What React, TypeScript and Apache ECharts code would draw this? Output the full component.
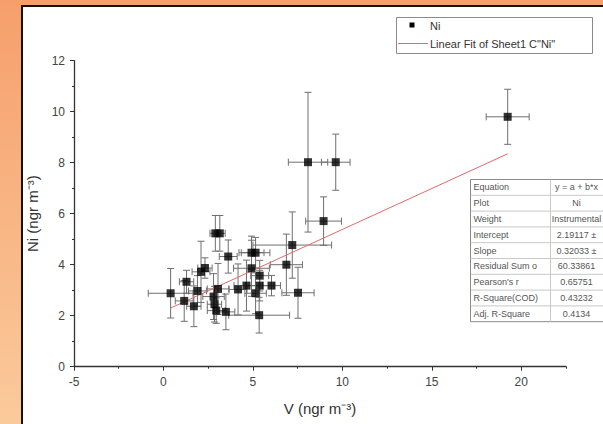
import React, { useEffect, useRef } from "react";
import * as echarts from "echarts";

// V (x) values, Ni (y) values, and their error half-widths
const vValues = [0.4, 1.16, 1.29, 1.7, 1.9, 2.1, 2.32, 2.9, 3.15, 2.8, 2.85, 2.95, 3.05, 3.49, 3.62, 4.17, 4.64, 4.92, 5.15, 4.92, 5.15, 5.38, 5.38, 5.35, 6.04, 6.87, 7.2, 7.52, 8.08, 9.63, 8.95, 19.24];
const niValues = [2.88, 2.58, 3.33, 2.37, 2.97, 3.72, 3.87, 5.23, 5.23, 2.75, 2.45, 2.2, 3.05, 2.15, 4.32, 3.03, 3.18, 4.47, 4.47, 3.86, 2.88, 3.57, 3.18, 2.02, 3.18, 4.0, 4.77, 2.9, 8.02, 8.02, 5.71, 9.8];
const vErr = [1.25, 0.5, 0.4, 0.4, 0.5, 0.5, 0.4, 0.3, 0.3, 0.6, 0.4, 0.5, 0.6, 0.5, 0.5, 0.5, 0.7, 0.7, 0.8, 1.0, 0.6, 0.5, 0.8, 1.7, 0.5, 0.9, 2.2, 0.9, 1.1, 0.8, 1.0, 1.2];
const niErr = [0.97, 0.8, 0.45, 0.8, 0.6, 1.2, 0.4, 0.7, 0.7, 0.9, 0.7, 0.5, 1.0, 0.7, 0.65, 1.0, 1.0, 0.65, 0.6, 1.1, 0.8, 0.6, 0.6, 0.7, 0.4, 1.2, 1.3, 1.0, 2.74, 1.1, 0.95, 1.08];

// Linear fit endpoints
const fitX = [0.4, 19.24];
const fitY = [2.3, 8.35];

// Fit result table
const tableLabels = ["Equation", "Plot", "Weight", "Intercept", "Slope", "Residual Sum o", "Pearson's r", "R-Square(COD)", "Adj. R-Square"];
const tableValues = ["y = a + b*x", "Ni", "Instrumental", "2.19117 ±", "0.32033 ±", "60.33861", "0.65751", "0.43232", "0.4134"];

const seriesName = "Ni";
const fitName = 'Linear Fit of Sheet1 C"Ni"';

export default function App() {
  const ref = useRef<HTMLDivElement>(null);

  useEffect(() => {
    if (!ref.current) return;
    const chart = echarts.init(ref.current, undefined, { renderer: "svg" });
    const font = "Liberation Sans, Arial, sans-serif";

    const errData = vValues.map((v, i) => [v, niValues[i], vErr[i], niErr[i]]);
    const pts = vValues.map((v, i) => [v, niValues[i]]);
    const fitData = fitX.map((x, i) => [x, fitY[i]]);

    // table graphic
    const tLeft = 470.5, tTop = 179.5, rowH = 15.8, col1W = 80, tW = 140;
    const tableChildren: any[] = [];
    tableChildren.push({
      type: "rect",
      shape: { x: tLeft, y: tTop, width: tW, height: rowH * tableLabels.length },
      style: { fill: "#fff", stroke: "#8a8a8a", lineWidth: 1 },
    });
    for (let i = 1; i < tableLabels.length; i++) {
      tableChildren.push({
        type: "line",
        shape: { x1: tLeft, y1: tTop + rowH * i, x2: tLeft + tW, y2: tTop + rowH * i },
        style: { stroke: "#c8c8c8", lineWidth: 1 },
      });
    }
    tableChildren.push({
      type: "line",
      shape: { x1: tLeft + col1W, y1: tTop, x2: tLeft + col1W, y2: tTop + rowH * tableLabels.length },
      style: { stroke: "#c8c8c8", lineWidth: 1 },
    });
    tableLabels.forEach((lab, i) => {
      tableChildren.push({
        type: "text",
        x: tLeft + 3,
        y: tTop + rowH * i + rowH / 2,
        style: { text: lab, fill: "#555", font: `9px ${font}`, verticalAlign: "middle", align: "left" },
      });
    });
    tableValues.forEach((val, i) => {
      tableChildren.push({
        type: "text",
        x: tLeft + col1W + 26,
        y: tTop + rowH * i + rowH / 2,
        style: { text: val, fill: "#555", font: `9px ${font}`, verticalAlign: "middle", align: "center" },
      });
    });

    const legendChildren: any[] = [
      {
        type: "rect",
        shape: { x: 396.5, y: 17.5, width: 196, height: 36 },
        style: { fill: "#fff", stroke: "#8a8a8a", lineWidth: 1 },
      },
      {
        type: "rect",
        shape: { x: 409.5, y: 22.5, width: 5, height: 5 },
        style: { fill: "#000" },
      },
      {
        type: "text",
        x: 430,
        y: 25.5,
        style: { text: seriesName, fill: "#333", font: `11px ${font}`, verticalAlign: "middle" },
      },
      {
        type: "line",
        shape: { x1: 398, y1: 43.5, x2: 428, y2: 43.5 },
        style: { stroke: "#e06a6a", lineWidth: 1 },
      },
      {
        type: "text",
        x: 430,
        y: 43.5,
        style: { text: fitName, fill: "#333", font: `11px ${font}`, verticalAlign: "middle" },
      },
    ];

    const option: any = {
      animation: false,
      backgroundColor: "transparent",
      textStyle: { fontFamily: font },
      grid: { left: 74, right: 37, top: 60.7, bottom: 57.3, containLabel: false },
      xAxis: [
        {
          type: "value",
          min: -5,
          max: 22.5,
          interval: 5,
          name: "V (ngr m⁻³)",
          nameLocation: "middle",
          nameGap: 34,
          nameTextStyle: { fontSize: 15, color: "#333", fontFamily: font },
          axisLine: { show: true, onZero: false, lineStyle: { color: "#333", width: 1.3 } },
          axisTick: { show: true, inside: false, length: 4, lineStyle: { color: "#333" } },
          axisLabel: { fontSize: 12, color: "#444", margin: 9, showMaxLabel: false },
          splitLine: { show: false },
        },
        {
          type: "value",
          min: -5,
          max: 22.5,
          interval: 2.5,
          position: "bottom",
          axisLine: { show: false, onZero: false },
          axisTick: { show: true, inside: false, length: 2, lineStyle: { color: "#333" } },
          axisLabel: { show: false },
          splitLine: { show: false },
        },
      ],
      yAxis: {
        type: "value",
        min: 0,
        max: 12,
        interval: 2,
        name: "Ni (ngr m⁻³)",
        nameLocation: "middle",
        nameGap: 34,
        nameTextStyle: { fontSize: 15, color: "#333", fontFamily: font },
        axisLine: { show: true, onZero: false, lineStyle: { color: "#333", width: 1.3 } },
        axisTick: { show: true, inside: false, length: 4, lineStyle: { color: "#333" } },
        minorTick: { show: true, splitNumber: 2, length: 2, lineStyle: { color: "#333" } },
        axisLabel: { fontSize: 12, color: "#444", margin: 9 },
        splitLine: { show: false },
      },
      graphic: [
        { type: "group", z: 100, children: tableChildren },
        { type: "group", z: 100, children: legendChildren },
      ],
      series: [
        {
          type: "custom",
          name: "err",
          xAxisIndex: 0,
          yAxisIndex: 0,
          data: errData,
          encode: { x: 0, y: 1 },
          z: 2,
          renderItem: (params: any, api: any) => {
            const x = api.value(0), y = api.value(1), xe = api.value(2), ye = api.value(3);
            const l = api.coord([x - xe, y]);
            const r = api.coord([x + xe, y]);
            const t = api.coord([x, y + ye]);
            const b = api.coord([x, y - ye]);
            const cap = 3.5;
            const st = { stroke: "#6f6f6f", lineWidth: 1 };
            return {
              type: "group",
              children: [
                { type: "line", shape: { x1: l[0], y1: l[1], x2: r[0], y2: r[1] }, style: st },
                { type: "line", shape: { x1: l[0], y1: l[1] - cap, x2: l[0], y2: l[1] + cap }, style: st },
                { type: "line", shape: { x1: r[0], y1: r[1] - cap, x2: r[0], y2: r[1] + cap }, style: st },
                { type: "line", shape: { x1: t[0], y1: t[1], x2: b[0], y2: b[1] }, style: st },
                { type: "line", shape: { x1: t[0] - cap, y1: t[1], x2: t[0] + cap, y2: t[1] }, style: st },
                { type: "line", shape: { x1: b[0] - cap, y1: b[1], x2: b[0] + cap, y2: b[1] }, style: st },
              ],
            };
          },
        },
        {
          type: "line",
          name: fitName,
          data: fitData,
          showSymbol: false,
          symbol: "none",
          z: 3,
          lineStyle: { color: "#e06a6a", width: 1 },
        },
        {
          type: "scatter",
          name: seriesName,
          data: pts,
          symbol: "rect",
          symbolSize: 8,
          z: 4,
          itemStyle: { color: "#000" },
        },
      ],
    };

    chart.setOption(option);
    return () => chart.dispose();
  }, []);

  return (
    <div
      style={{
        position: "absolute",
        left: 0,
        top: 0,
        width: 603,
        height: 424,
        overflow: "hidden",
        background: "linear-gradient(to bottom, #f69f6c, #fbca9b)",
      }}
    >
      <div
        style={{
          position: "absolute",
          left: 21,
          top: 5,
          width: 620,
          height: 440,
          background: "#fff",
          borderLeft: "2px solid #111",
          borderTop: "2px solid #111",
        }}
      />
      <div ref={ref} style={{ position: "absolute", left: 0, top: 0, width: 603, height: 424 }} />
    </div>
  );
}
